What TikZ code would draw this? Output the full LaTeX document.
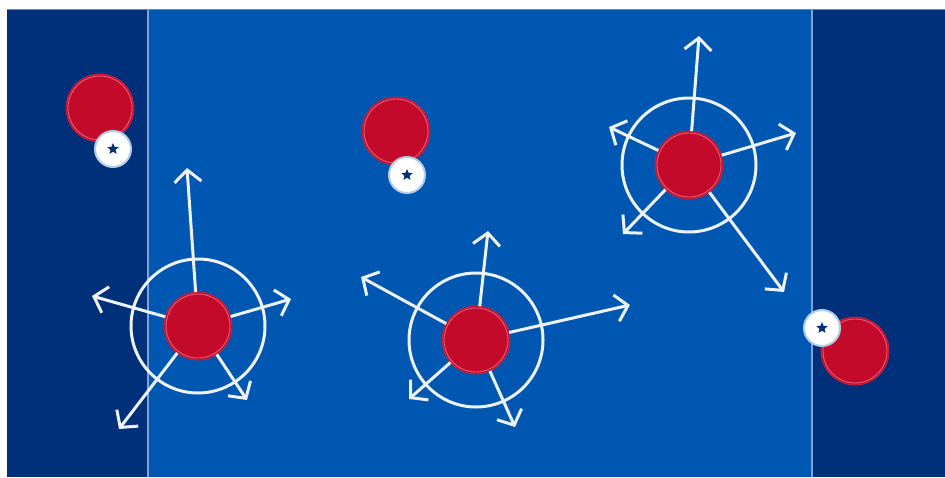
\documentclass[tikz,border=0pt]{standalone}
\usetikzlibrary{arrows.meta,shapes.geometric}
\definecolor{deep}  {HTML}{00307A}
\definecolor{court} {HTML}{0057B1}
\definecolor{lane}  {HTML}{7FA3D6}
\definecolor{jersey}{HTML}{C30A2A}
\definecolor{trim}  {HTML}{E0607A}
\definecolor{chalk} {HTML}{EEF2FA}
\tikzset{
  % --- nodes
  player/.style = {circle, fill=jersey, draw=jersey!90!white, line width=0.8pt,
                   minimum size=68pt, inner sep=0pt, outer sep=0pt,
                   path picture={\draw[trim, line width=0.9pt]
                     (path picture bounding box.center) circle (32pt);}},
  ball/.style   = {circle, fill=white, draw=white!70!court, line width=2pt,
                   minimum size=36pt, inner sep=0pt},
  badge/.style  = {star, star points=5, star point ratio=2.2, fill=deep,
                   minimum size=12pt, inner sep=0pt},
  % --- lines
  zone/.style   = {draw=chalk, line width=3pt},
  run/.style    = {draw=chalk, line width=3pt,
                   -{Straight Barb[length=12pt,width=27pt]}},
}
\begin{document}
\begin{tikzpicture}[x=1pt,y=-1pt]
  \useasboundingbox (0,0) rectangle (945,477);
  % court
  \fill[deep]  (7,9) rectangle (945,477);
  \fill[court] (148,9) rectangle (812,477);
  \draw[lane, line width=1.6pt] (148,9) -- (148,477);
  \draw[lane, line width=1.6pt] (812,9) -- (812,477);
  \draw[lane!70!court, line width=0.8pt] (7,9.4) -- (945,9.4);

  % players with the ball
  \node[player] (h1) at (100,108) {};
  \node[ball]   (b1) at (113,149) {};
  \node[badge]  (s1) at (b1) {};
  \node[player] (h2) at (396,131) {};
  \node[ball]   (b2) at (407,175) {};
  \node[badge]  (s2) at (b2) {};
  \node[player] (h3) at (855,351) {};
  \node[ball]   (b3) at (822,328) {};
  \node[badge]  (s3) at (b3) {};

  % defender A
  \node[player] (dA) at (198,326) {};
  \draw[zone] (dA.center) circle (67pt);
  \coordinate (aN)  at (187,168);
  \coordinate (aW)  at (92,296);
  \coordinate (aE)  at (291,299);
  \coordinate (aSW) at (119,429);
  \coordinate (aSE) at (247,400);
  \foreach \t in {aN,aW,aE,aSW,aSE} \draw[run] (dA) -- (\t);

  % defender B
  \node[player] (dB) at (476,340) {};
  \draw[zone] (dB.center) circle (67pt);
  \coordinate (bN)  at (488,231);
  \coordinate (bW)  at (361,277);
  \coordinate (bE)  at (630,305);
  \coordinate (bSW) at (409,399);
  \coordinate (bSE) at (515,427);
  \foreach \t in {bN,bW,bE,bSW,bSE} \draw[run] (dB) -- (\t);

  % defender C
  \node[player] (dC) at (689,165) {};
  \draw[zone] (dC.center) circle (67pt);
  \coordinate (cN)  at (699,36);
  \coordinate (cW)  at (609,127);
  \coordinate (cE)  at (796,133);
  \coordinate (cSW) at (623,234);
  \coordinate (cSE) at (784,292);
  \foreach \t in {cN,cW,cE,cSW,cSE} \draw[run] (dC) -- (\t);
\end{tikzpicture}
\end{document}
